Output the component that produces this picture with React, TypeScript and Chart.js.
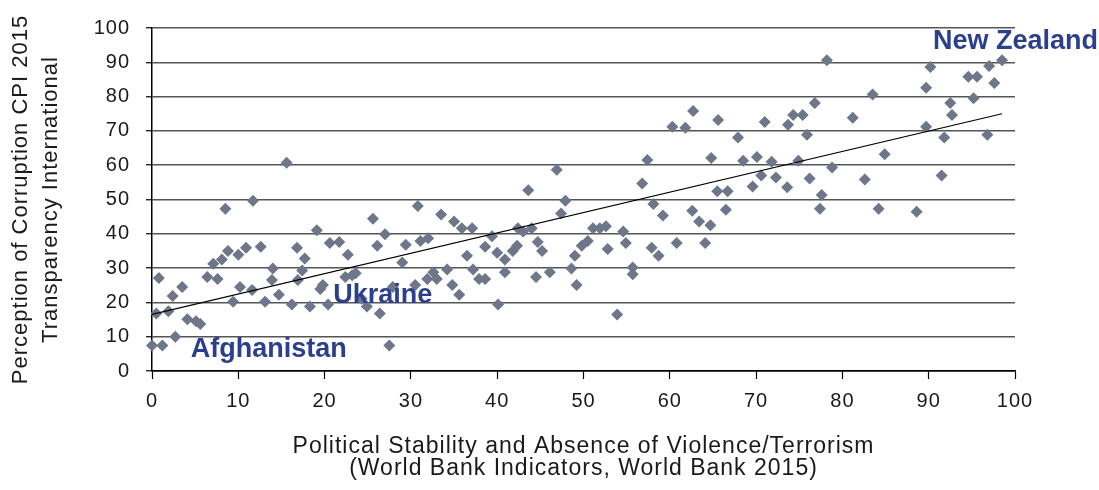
import React, { useEffect, useRef } from "react";
import { Chart, registerables } from "chart.js";

Chart.register(...registerables);

// Political Stability (x) vs Perception of Corruption CPI 2015 (y)
const stabilityX: number[] = [
  0, 1.2, 0.5, 0.8, 1.9, 2.4, 3.5, 2.7, 4.1, 5.1, 5.6, 6.4, 7.6, 7.1, 8.1, 8.5, 8.8, 9.4, 10.0, 10.2,
  10.9, 11.7, 11.6, 12.6, 13.1, 13.9, 14.0, 14.7, 15.6, 16.2, 16.8, 16.9, 17.4, 17.7, 18.3, 19.1, 19.5, 19.8, 20.4, 20.6,
  21.7, 22.7, 22.4, 23.2, 23.6, 24.3, 24.9, 25.6, 26.1, 27.0, 26.4, 27.5, 27.9, 29.0, 29.4, 30.5, 30.8, 31.1, 32.0, 31.9,
  32.6, 33.0, 33.5, 34.2, 34.8, 35.0, 35.6, 35.9, 36.5, 37.1, 37.2, 37.9, 38.6, 38.6, 39.4, 40.1, 40.0, 40.9, 40.9, 41.8,
  42.3, 42.4, 43.0, 44.0, 43.6, 44.5, 44.7, 45.2, 46.1, 46.9, 47.4, 47.9, 48.6, 49.0, 49.2, 49.8, 50.5, 51.1, 51.9, 52.6,
  52.8, 53.9, 54.6, 54.9, 55.7, 55.7, 56.8, 57.4, 57.9, 58.1, 58.7, 59.2, 60.3, 60.8, 61.8, 62.7, 62.6, 63.4, 64.1, 64.7,
  64.8, 65.5, 65.6, 66.5, 66.7, 67.9, 68.5, 69.6, 70.1, 70.6, 71.0, 71.8, 72.3, 73.6, 73.7, 74.3, 74.9, 75.4, 75.9, 76.2,
  76.8, 77.6, 77.4, 78.2, 78.8, 81.2, 82.6, 83.5, 84.2, 84.9, 88.6, 89.7, 89.7, 90.2, 91.5, 91.8, 92.5, 92.7, 94.6, 95.2,
  95.6, 96.8, 97.0, 97.6, 98.5,
];
const corruptionY: number[] = [
  7.4, 7.4, 16.8, 27.1, 17.4, 21.9, 24.5, 10.0, 15.1, 14.5, 13.7, 27.4, 26.8, 31.3, 32.5, 47.3, 35.0, 20.2, 33.9, 24.5,
  35.9, 49.6, 23.6, 36.2, 20.2, 26.5, 29.9, 22.2, 60.7, 19.4, 35.9, 26.5, 29.3, 32.8, 18.8, 41.0, 23.9, 25.1, 19.4, 37.3,
  37.6, 33.9, 27.4, 27.9, 28.5, 21.1, 18.8, 44.4, 36.5, 39.9, 16.8, 7.4, 24.5, 31.6, 36.8, 25.1, 48.1, 37.9, 38.7, 26.8,
  28.8, 26.8, 45.6, 29.6, 25.1, 43.6, 22.2, 41.6, 33.6, 41.6, 29.6, 26.8, 26.8, 36.2, 39.3, 19.4, 34.5, 32.5, 28.8, 35.0,
  36.5, 41.6, 40.7, 41.6, 52.7, 27.4, 37.6, 35.0, 28.8, 58.7, 45.9, 49.6, 29.9, 33.6, 25.1, 36.5, 37.9, 41.6, 41.6, 42.2,
  35.6, 16.5, 40.7, 37.3, 30.2, 28.2, 54.7, 61.5, 35.9, 48.7, 33.6, 45.3, 71.2, 37.3, 70.9, 75.8, 46.7, 43.6, 37.3, 42.5,
  62.1, 52.4, 73.2, 47.0, 52.4, 68.1, 61.3, 53.8, 62.4, 57.0, 72.6, 61.0, 56.4, 53.6, 71.8, 74.6, 61.3, 74.6, 68.9, 56.1,
  78.1, 51.3, 47.3, 90.6, 59.3, 73.8, 55.8, 80.6, 47.3, 63.2, 46.4, 82.6, 71.2, 88.6, 57.0, 68.1, 78.1, 74.6, 85.8, 79.5,
  85.8, 68.9, 88.9, 84.0, 90.6,
];

// Linear trend line end points
const trendX: number[] = [0, 98.5];
const trendY: number[] = [16.5, 75];

// Axis ticks
const xTicks: number[] = [0, 10, 20, 30, 40, 50, 60, 70, 80, 90, 100];
const yTicks: number[] = [0, 10, 20, 30, 40, 50, 60, 70, 80, 90, 100];

// Country annotations (anchored in data coordinates, text baseline)
const countryNames: string[] = ["Afghanistan", "Ukraine", "New Zealand"];
const countryLabelX: number[] = [4.5, 21.0, 90.5];
const countryLabelY: number[] = [4.0, 19.7, 93.8];

const FONT = "'Liberation Sans', Arial, Helvetica, sans-serif";

const spacingPlugin = {
  id: "letterSpacing",
  beforeDraw(chart: any) {
    (chart.ctx as any).letterSpacing = "1px";
  },
};

const labelPlugin = {
  id: "countryLabels",
  afterDatasetsDraw(chart: any) {
    const { ctx, scales } = chart;
    ctx.save();
    (ctx as any).letterSpacing = "0px";
    ctx.font = `bold 27px ${FONT}`;
    ctx.fillStyle = "#2B3F8E";
    ctx.textAlign = "left";
    ctx.textBaseline = "alphabetic";
    countryNames.forEach((name, i) => {
      const px = scales.x.getPixelForValue(countryLabelX[i]);
      const py = scales.y.getPixelForValue(countryLabelY[i]);
      ctx.fillText(name, px, py);
    });
    ctx.restore();
  },
};

export default function App() {
  const canvasRef = useRef<HTMLCanvasElement | null>(null);

  useEffect(() => {
    if (!canvasRef.current) return;
    const points = stabilityX.map((x, i) => ({ x, y: corruptionY[i] }));
    const trend = trendX.map((x, i) => ({ x, y: trendY[i] }));

    const chart = new Chart(canvasRef.current, {
      type: "scatter",
      data: {
        datasets: [
          {
            type: "line",
            data: trend,
            borderColor: "#000000",
            borderWidth: 1.2,
            pointRadius: 0,
            showLine: true,
            fill: false,
            order: 0,
          } as any,
          {
            data: points,
            pointStyle: "rectRot",
            pointRadius: 6,
            pointHoverRadius: 6,
            backgroundColor: "#6E7689",
            borderColor: "#6E7689",
            borderWidth: 0,
            clip: false,
            order: 1,
          } as any,
        ],
      },
      options: {
        animation: false,
        responsive: true,
        maintainAspectRatio: false,
        events: [],
        layout: { padding: { top: 20, right: 84, left: 0, bottom: 0 } },
        plugins: {
          legend: { display: false },
          tooltip: { enabled: false },
          title: { display: false },
        },
        scales: {
          x: {
            type: "linear",
            min: 0,
            max: 100,
            afterBuildTicks: (s: any) => {
              s.ticks = xTicks.map((v) => ({ value: v }));
            },
            afterFit: (s: any) => {
              s.height = 119;
            },
            border: { display: true, color: "#000000", width: 1.5 },
            grid: {
              display: true,
              drawOnChartArea: false,
              drawTicks: true,
              tickLength: 8,
              tickColor: "#000000",
              tickWidth: 1.2,
            },
            ticks: {
              color: "#1a1a1a",
              font: { family: FONT, size: 20 },
              padding: 10,
              maxRotation: 0,
              autoSkip: false,
            },
            title: {
              display: true,
              text: [
                "Political Stability and Absence of Violence/Terrorism",
                "(World Bank Indicators, World Bank 2015)",
              ],
              color: "#1a1a1a",
              font: { family: FONT, size: 23, lineHeight: 0.98 },
              padding: { top: 0, bottom: 10 },
            },
          },
          y: {
            type: "linear",
            min: 0,
            max: 100,
            afterBuildTicks: (s: any) => {
              s.ticks = yTicks.map((v) => ({ value: v }));
            },
            afterFit: (s: any) => {
              s.width = 152;
            },
            border: { display: true, color: "#000000", width: 1.5 },
            grid: {
              display: true,
              drawOnChartArea: true,
              drawTicks: true,
              tickLength: 6,
              color: (c: any) => (c.tick && c.tick.value === 0 ? "#000000" : "#555555"),
              lineWidth: 1.5,
              tickColor: "#000000",
              tickWidth: 1.2,
            },
            ticks: {
              color: "#1a1a1a",
              font: { family: FONT, size: 20 },
              padding: 16,
              autoSkip: false,
            },
            title: {
              display: true,
              text: ["Perception of Corruption CPI 2015", "Transparency International"],
              color: "#1a1a1a",
              font: { family: FONT, size: 22, lineHeight: 1.36 },
              padding: { top: 6, bottom: 0 },
            },
          },
        },
      },
      plugins: [spacingPlugin, labelPlugin],
    });

    return () => chart.destroy();
  }, []);

  return (
    <div style={{ position: "fixed", left: 0, top: 0, width: 1099, height: 490 }}>
      <canvas ref={canvasRef} />
    </div>
  );
}
